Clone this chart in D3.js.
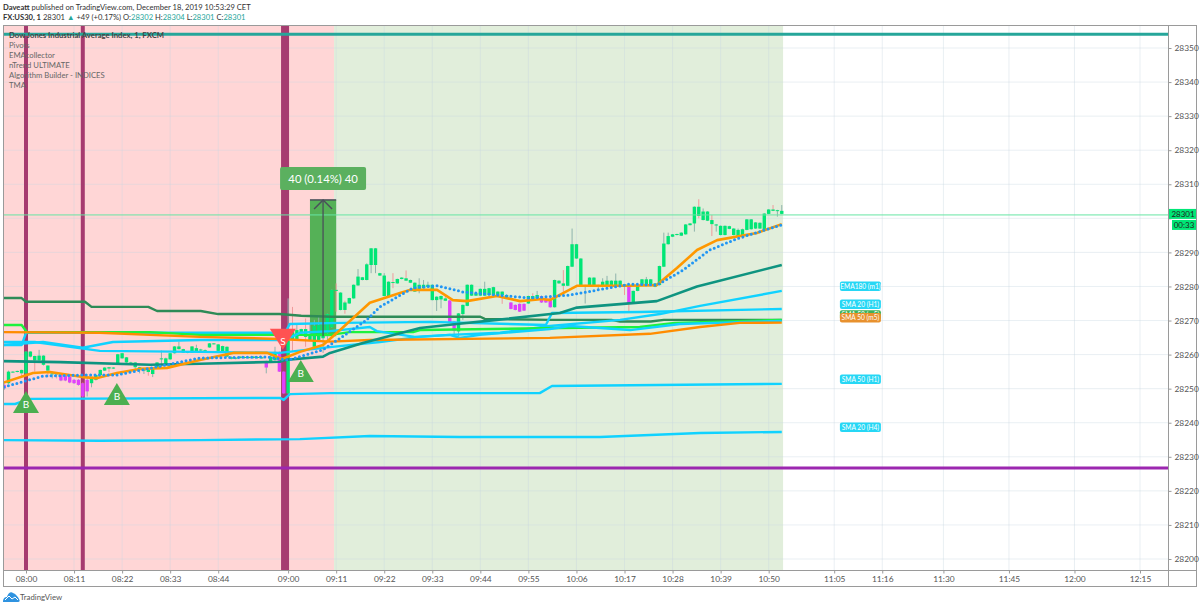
<!DOCTYPE html>
<html>
<head>
<meta charset="utf-8">
<script src="https://cdn.jsdelivr.net/npm/d3@7"></script>
<style>
  html, body { margin: 0; padding: 0; background: #fff; }
  svg { display: block; }
  text { font-family: Lato, sans-serif; }
</style>
</head>
<body>
<div id="chart"></div>
<script>
// minutes counted from 08:00, prices
const priceTicks = [28200,28210,28220,28230,28240,28250,28260,28270,28280,28290,28300,28310,28320,28330,28340,28350];
const hiddenPriceLabel = 28300; // covered by the last price tag
const timeTicks = [0,11,22,33,44,60,71,82,93,104,115,126,137,148,159,170,185,196,210,225,240,255];
const timeLabels = ["08:00","08:11","08:22","08:33","08:44","09:00","09:11","09:22","09:33","09:44","09:55","10:06","10:17","10:28","10:39","10:50","11:05","11:16","11:30","11:45","12:00","12:15"];
const legendLines = ["Dow Jones Industrial Average Index, 1, FXCM","Pivots","EMAcollector","nTrend ULTIMATE","Algorithm Builder - INDICES","TMA"];

const firstCandle = -5;
const bodyHigh = [
28251.1,28255.0,28255.0,28255.2,28255.5,28260.9,28260.9,28259.6,28259.7,28259.7,
28256.8,28254.5,28254.5,28254.0,28253.8,28253.6,28252.6,28252.6,28251.6,28252.6,
28253.1,28254.0,28255.5,28256.2,28256.3,28256.2,28260.1,28260.4,28259.2,28257.7,
28257.7,28256.3,28255.9,28255.7,28256.0,28257.7,28258.9,28258.9,28260.4,28262.4,
28262.4,28261.6,28260.8,28262.4,28261.9,28261.5,28261.3,28263.3,28263.3,28263.0,
28262.5,28262.3,28259.2,28259.1,28259.4,28259.3,28259.3,28259.4,28259.3,28259.2,
28258.1,28259.4,28260.8,28260.8,28255.0,28266.0,28266.7,28267.2,28267.5,28267.5,
28265.7,28268.5,28268.7,28268.7,28271.9,28279.0,28279.0,28278.2,28275.3,28276.6,
28280.5,28282.9,28282.7,28286.5,28291.2,28291.2,28283.9,28283.2,28281.4,28281.3,
28282.2,28282.6,28282.4,28281.9,28281.1,28280.5,28280.5,28280.5,28280.5,28277.0,
28277.2,28276.5,28275.9,28269.7,28272.1,28274.6,28280.5,28280.5,28278.0,28279.3,
28279.3,28279.5,28279.8,28278.5,28278.5,28277.5,28275.3,28274.6,28274.9,28274.9,
28277.2,28277.2,28277.5,28277.2,28276.5,28276.5,28281.9,28281.7,28280.9,28286.0,
28292.4,28292.4,28288.2,28280.4,28282.6,28282.6,28280.4,28281.4,28281.7,28281.7,
28281.7,28281.7,28280.6,28280.4,28278.7,28280.4,28282.1,28282.1,28282.1,28280.9,
28286.0,28292.6,28294.8,28295.3,28295.4,28295.8,28298.2,28298.5,28303.4,28303.4,
28302.0,28302.0,28299.5,28298.2,28297.8,28297.8,28297.7,28297.0,28296.6,28296.8,
28299.7,28299.7,28298.8,28298.7,28301.4,28302.6,28302.6,28302.4,28302.2];
const bodyLow = [
28250.1,28251.6,28254.8,28254.9,28254.5,28254.5,28259.4,28258.3,28258.3,28257.0,
28255.3,28254.3,28254.2,28252.4,28252.4,28251.8,28251.6,28251.1,28247.7,28249.2,
28251.6,28252.6,28254.0,28255.3,28255.9,28255.9,28257.3,28258.9,28257.7,28257.5,
28256.3,28255.5,28255.3,28254.9,28254.3,28256.3,28258.6,28257.3,28258.6,28260.4,
28261.6,28260.6,28260.6,28260.6,28260.9,28261.2,28261.0,28262.1,28263.1,28261.1,
28260.8,28259.4,28258.8,28258.8,28259.0,28259.0,28259.0,28259.0,28259.0,28258.9,
28256.2,28257.9,28258.4,28255.0,28248.6,28248.6,28264.3,28264.3,28266.2,28265.2,
28264.3,28262.3,28264.3,28264.8,28266.2,28268.0,28278.7,28273.1,28273.1,28275.0,
28276.5,28280.3,28281.9,28281.9,28286.3,28286.3,28283.2,28277.2,28277.2,28281.1,
28280.9,28282.2,28281.7,28281.1,28278.5,28279.0,28279.5,28279.8,28276.0,28276.0,
28276.2,28275.8,28269.4,28267.0,28266.8,28271.9,28274.3,28277.3,28277.3,28277.3,
28277.3,28277.5,28277.5,28277.5,28277.5,28276.5,28273.4,28273.1,28272.6,28272.9,
28275.0,28276.2,28276.5,28275.3,28275.3,28273.9,28273.9,28280.9,28280.2,28280.2,
28285.8,28288.2,28280.4,28280.1,28280.4,28280.4,28280.0,28280.4,28280.4,28280.4,
28280.4,28280.4,28280.3,28275.0,28275.0,28278.7,28280.4,28280.4,28280.4,28279.9,
28280.4,28285.8,28292.4,28294.6,28295.1,28294.9,28295.3,28298.0,28298.5,28300.7,
28299.5,28299.3,28298.3,28297.9,28295.1,28295.1,28296.9,28295.1,28294.6,28294.8,
28296.6,28296.8,28297.0,28297.0,28296.6,28301.3,28302.2,28302.2,28301.3];
const wickHigh = [
28251.5,28255.3,28255.1,28255.3,28255.6,28261.0,28261.0,28259.7,28261.4,28259.8,
28256.9,28254.7,28254.7,28254.1,28253.9,28253.7,28252.8,28252.8,28251.8,28253.1,
28253.2,28254.1,28255.6,28256.3,28256.4,28256.3,28260.2,28260.5,28259.3,28257.9,
28257.8,28256.4,28256.0,28255.8,28256.1,28257.8,28261.2,28259.1,28260.5,28262.5,
28263.8,28261.7,28261.0,28262.5,28262.9,28261.7,28261.5,28263.4,28263.4,28263.1,
28262.6,28262.4,28259.5,28259.3,28259.6,28259.5,28259.5,28259.6,28259.5,28259.4,
28258.2,28260.5,28262.3,28260.9,28255.1,28276.5,28274.0,28269.1,28267.6,28270.6,
28269.1,28270.2,28271.1,28268.9,28272.0,28279.1,28280.9,28278.3,28275.8,28276.7,
28280.6,28285.1,28282.8,28286.8,28291.3,28291.3,28284.0,28283.9,28281.5,28283.9,
28282.3,28282.7,28284.7,28282.0,28281.2,28282.4,28281.9,28281.4,28280.6,28277.1,
28277.3,28277.5,28276.0,28269.8,28272.2,28274.7,28280.6,28280.6,28278.1,28279.4,
28281.4,28279.6,28279.9,28278.6,28278.6,28277.6,28275.4,28274.7,28275.0,28275.0,
28277.3,28278.0,28278.7,28277.3,28276.6,28276.6,28282.0,28281.8,28284.8,28286.1,
28297.0,28292.5,28288.3,28280.5,28282.7,28282.7,28280.5,28282.4,28283.1,28281.8,
28283.8,28281.8,28280.7,28280.5,28278.8,28280.5,28282.2,28282.8,28282.2,28281.0,
28286.1,28295.8,28295.8,28295.4,28295.5,28295.9,28298.3,28298.6,28303.5,28305.6,
28302.9,28302.1,28301.0,28298.3,28297.9,28297.9,28297.8,28297.1,28297.0,28297.0,
28299.8,28299.8,28298.9,28298.8,28301.5,28302.7,28303.9,28302.5,28303.9];
const wickLow = [
28249.6,28251.4,28254.7,28254.8,28253.4,28254.0,28259.2,28255.0,28258.2,28256.8,
28253.4,28253.0,28253.0,28252.2,28252.2,28251.6,28251.4,28250.9,28247.4,28247.7,
28250.4,28252.4,28253.9,28255.2,28254.8,28255.8,28257.2,28258.8,28257.6,28257.4,
28255.5,28254.5,28254.3,28253.8,28253.4,28256.2,28256.5,28257.2,28258.5,28260.3,
28261.5,28260.5,28260.4,28260.5,28260.8,28261.0,28260.9,28262.0,28263.0,28261.0,
28260.7,28259.3,28258.6,28258.6,28258.8,28258.8,28258.8,28258.8,28258.8,28258.7,
28254.5,28257.7,28258.2,28254.9,28248.5,28248.5,28260.8,28264.2,28266.1,28262.3,
28264.2,28262.2,28264.2,28260.5,28264.2,28267.9,28272.6,28273.0,28272.0,28274.9,
28276.4,28280.2,28281.8,28281.8,28283.9,28283.9,28283.1,28277.1,28277.1,28279.5,
28280.8,28282.1,28281.6,28281.0,28278.4,28278.0,28279.4,28279.7,28275.9,28272.8,
28273.6,28275.7,28269.3,28265.3,28265.3,28270.2,28274.2,28277.2,28277.2,28277.2,
28277.2,28277.4,28277.4,28277.4,28274.9,28276.4,28273.3,28273.0,28272.5,28272.8,
28274.9,28276.1,28276.4,28275.2,28275.2,28273.8,28273.8,28280.8,28278.0,28280.1,
28285.7,28288.1,28280.3,28275.0,28280.3,28280.3,28278.9,28280.3,28280.3,28280.3,
28280.3,28280.3,28277.5,28272.6,28274.9,28278.6,28280.3,28280.3,28280.3,28279.8,
28280.3,28285.7,28292.3,28294.5,28295.0,28294.8,28295.2,28297.9,28296.1,28300.0,
28299.4,28299.2,28294.8,28296.1,28295.0,28295.0,28296.8,28295.0,28294.5,28294.0,
28296.5,28296.7,28296.9,28296.9,28296.5,28301.2,28302.1,28300.5,28301.2];
const magentaMinutes = [-5,8,9,10,11,12,13,14,55,58,59,97,98,111,112,113,114,118,119,120,138];
const salmonWickMinutes = [-1,2,5,7,13,19,28,61,64,71,73,84,87,96,109,116,123,137,138,154,157,164,171];

const darkGreenLine = [[-5.3,28276.6],[-1,28276.6],[0,28275.5],[13.5,28275.5],[15,28274],[28,28274],[30,28272.8],[40,28272.8],[44,28271.9],[58,28271.9],[63,28271.4],[70,28271.1],[104,28271.1],[105,28270.5],[120,28270.2],[134,28270.2],[136,28269.7],[143,28269.7],[146,28270.2],[173,28270.2]];
const brightGreenLine = [[-5.3,28268.7],[-1,28268.7],[0.2,28266.6],[28.4,28266.6],[39.8,28265.8],[69.6,28265.8],[74.1,28266.6],[88.6,28266.6],[90.2,28267.2],[122.2,28267.8],[140.5,28268.1],[148.5,28269.3],[173,28270.2]];
const flatOrangeLine = [[-5.3,28266.6],[16.9,28266.4],[39.8,28265.2],[58.1,28264.6],[69.6,28263.8],[78.7,28264.3],[119.9,28264.9],[142.8,28266.1],[154.3,28268.1],[163.4,28269.3],[173,28269.4]];
const sma20H1 = [[-5.3,28262.8],[-1,28262.8],[0,28266.4],[59.3,28266.4],[60.4,28269],[71.9,28269.3],[92.5,28269.6],[119,28268.7],[120.4,28272.2],[140.5,28272.5],[173,28273.4]];
const ema180M1 = [[-5.3,28263.7],[2,28263.7],[16.9,28261.1],[39.8,28260.8],[58.1,28260.5],[69.6,28262.2],[81,28263.7],[90.2,28265.2],[97,28265.8],[108.5,28266.4],[119.9,28268.4],[136,28270.2],[145.1,28271.9],[154.3,28274.3],[173,28278.7]];
const cyanWavy = [[-5.3,28262.8],[3.9,28263.7],[13,28262],[19.9,28263.7],[39.8,28264.3],[59.3,28264.3],[62.7,28266.4],[69.6,28266.9],[78.7,28268.1],[80.3,28266.9],[89,28265.2],[97,28265.8],[99.3,28264.9],[103.9,28265.8],[119.9,28267.5],[124.5,28268.4],[138.3,28267.2],[149.7,28269],[173,28269.9]];
const sma50H1 = [[-5.3,28245.5],[-2.5,28245.5],[0.9,28247],[58.1,28247.3],[59,28246.7],[60.4,28248.4],[69.6,28248.7],[117.6,28248.7],[120.4,28250.8],[173,28251.4]];
const sma20H4 = [[-5.3,28234.9],[16.9,28234.7],[39.8,28234.9],[62.7,28235.2],[78.7,28236.1],[99.3,28235.8],[131.4,28235.8],[154.3,28237],[173,28237.3]];
const tealEma = [[-5.3,28258.1],[7.8,28257.8],[28.4,28257],[39.8,28257.3],[58.1,28257.9],[59.3,28258.4],[68,28259.4],[69.6,28260.5],[77.1,28263.4],[90.2,28267.8],[98.6,28269],[107.8,28270.2],[122.2,28272.2],[126.1,28273.8],[144.4,28275.7],[153.6,28280],[173,28286.3]];
const orangeMa = [[-5.3,28251.7],[1.6,28254.6],[5.5,28254.9],[13,28253.4],[16.3,28253.1],[20.8,28254.6],[26.1,28255.8],[32.3,28256.1],[39.8,28258.4],[47.4,28260.5],[55.2,28260.5],[58.6,28258.7],[62.7,28260.8],[68,28262.8],[71.9,28267.2],[78.7,28275.2],[85.6,28278.1],[87.9,28279],[94.1,28279],[97.7,28276],[100.9,28275.7],[107.8,28277.2],[113.1,28275.7],[118.3,28276.3],[119.9,28276],[126.1,28280.2],[138.3,28280.2],[144.4,28280.4],[149,28285.4],[153.6,28290.7],[158.2,28293.6],[167.3,28295.7],[173,28298.3]];
const blueDots = [[-5,28250.5],[3.9,28253.7],[13,28254],[20.8,28254],[39.8,28259],[55.2,28259.3],[60,28258.4],[68,28261.4],[78,28270.2],[81,28274],[88.6,28279.6],[94.1,28280.2],[100,28278.4],[107.8,28277.5],[115.3,28276.6],[124.5,28277.5],[138.3,28280.7],[144.4,28280.4],[150.4,28284.8],[156.5,28290.7],[162.7,28294],[173,28298.1]];

const sessionBands = [[-5.26,70.5,"#ffd6d6"],[70.5,173.3,"#e1eedb"]];
const pinkBars = [[0,4],[13,4],[59.3,8]];
const topLevel = 28354;
const purpleLevel = 28226.7;
const lastPrice = 28301;

const signalMinutes = [0,20.8,62.9,58.8];
const signalPrices = [28249.3,28251.7,28258.4,28261.4];
const signalTexts = ["B","B","B","S"];

const lineTags = [["EMA180 (m1)",28278.7,"#26d7f5"],["SMA 20 (H1)",28273.4,"#26d7f5"],["SMA 50 (m5)",28270.2,"#3db25a"],["SMA 50 (m5)",28269.4,"#e8912e"],["SMA 50 (H1)",28251.4,"#26d7f5"],["SMA 20 (H4)",28237.3,"#26d7f5"]];

const width = 1200, height = 608;
const plotLeft = 3, plotRight = 1168, plotTop = 25, plotBottom = 570;

const x = d3.scaleLinear().domain([0, 255]).range([26, 1140]);
const y = d3.scaleLinear().domain([28350, 28200]).range([48, 559]);

const svg = d3.select('#chart')
  .append('svg')
  .attr('width', width)
  .attr('height', height);

svg.append('clipPath').attr('id', 'plot')
  .append('rect')
  .attr('x', plotLeft).attr('y', plotTop)
  .attr('width', plotRight - plotLeft).attr('height', plotBottom - plotTop);

// header
const head1 = svg.append('text').attr('x', 3).attr('y', 10).attr('font-size', 7.6).attr('fill', '#333');
head1.append('tspan').attr('font-weight', 700).text('Daveatt');
head1.append('tspan').text(' published on TradingView.com, December 18, 2019 10:53:29 CET');

const head2 = svg.append('text').attr('x', 3).attr('y', 20).attr('font-size', 7.6).attr('fill', '#333');
head2.append('tspan').attr('font-weight', 700).text('FX:US30, 1');
head2.append('tspan').text('  28301 ');
head2.append('tspan').attr('fill', '#26a69a').text('▲');
head2.append('tspan').text(' +49 (+0.17%) O:');
head2.append('tspan').attr('fill', '#26a69a').text('28302');
head2.append('tspan').text(' H:');
head2.append('tspan').attr('fill', '#26a69a').text('28304');
head2.append('tspan').text(' L:');
head2.append('tspan').attr('fill', '#26a69a').text('28301');
head2.append('tspan').text(' C:');
head2.append('tspan').attr('fill', '#26a69a').text('28301');

const plot = svg.append('g').attr('clip-path', 'url(#plot)');

// session backgrounds
plot.selectAll('rect.band')
  .data(sessionBands)
  .enter()
  .append('rect')
  .attr('class', 'band')
  .attr('x', d => x(d[0]))
  .attr('y', plotTop)
  .attr('width', d => x(d[1]) - x(d[0]))
  .attr('height', plotBottom - plotTop)
  .attr('fill', d => d[2]);

// grid
plot.selectAll('line.hgrid')
  .data(priceTicks)
  .enter()
  .append('line')
  .attr('x1', plotLeft).attr('x2', plotRight)
  .attr('y1', d => y(d)).attr('y2', d => y(d))
  .attr('stroke', '#c9d6e2').attr('stroke-opacity', 0.4);

plot.selectAll('line.vgrid')
  .data(timeTicks)
  .enter()
  .append('line')
  .attr('x1', d => x(d)).attr('x2', d => x(d))
  .attr('y1', plotTop).attr('y2', plotBottom)
  .attr('stroke', '#c9d6e2').attr('stroke-opacity', 0.4);

// legend sits under the drawings
svg.selectAll('text.legend')
  .data(legendLines)
  .enter()
  .append('text')
  .attr('x', 9)
  .attr('y', (d, i) => 38 + i * 10)
  .attr('font-size', 7.7)
  .attr('font-weight', (d, i) => i === 0 ? 700 : 400)
  .attr('fill', (d, i) => i === 0 ? '#444' : '#666')
  .text(d => d);

// session marker bars
plot.selectAll('rect.pink')
  .data(pinkBars)
  .enter()
  .append('rect')
  .attr('x', d => x(d[0]) - d[1] / 2)
  .attr('y', plotTop)
  .attr('width', d => d[1])
  .attr('height', plotBottom - plotTop)
  .attr('fill', '#a63b70');

// trade box
const tradeStart = 65, tradeEnd = 71, tradeTop = 28305.4, tradeBottom = 28265.4;
plot.append('rect')
  .attr('x', x(tradeStart))
  .attr('y', y(tradeTop))
  .attr('width', x(tradeEnd) - x(tradeStart))
  .attr('height', y(tradeBottom) - y(tradeTop))
  .attr('fill', '#4caf50')
  .attr('fill-opacity', 0.95);

// candles
const candles = bodyHigh.map((d, i) => ({
  minute: firstCandle + i,
  bodyHigh: d,
  bodyLow: bodyLow[i],
  wickHigh: wickHigh[i],
  wickLow: wickLow[i]
}));

plot.selectAll('line.wick')
  .data(candles)
  .enter()
  .append('line')
  .attr('x1', d => x(d.minute)).attr('x2', d => x(d.minute))
  .attr('y1', d => y(d.wickHigh)).attr('y2', d => y(d.wickLow))
  .attr('stroke', d => salmonWickMinutes.includes(d.minute) ? '#ef9a9a' : '#8fb3ac')
  .attr('stroke-width', 1);

plot.selectAll('rect.body')
  .data(candles)
  .enter()
  .append('rect')
  .attr('x', d => x(d.minute) - 1.7)
  .attr('y', d => y(d.bodyHigh))
  .attr('width', 3.4)
  .attr('height', d => Math.max(1, y(d.bodyLow) - y(d.bodyHigh)))
  .attr('fill', d => magentaMinutes.includes(d.minute) ? '#e040fb' : '#00e676');

// indicator lines
const lineGen = d3.line().x(d => x(d[0])).y(d => y(d[1]));
const lineStyles = [
  [darkGreenLine, '#2e8b57', 2.4],
  [sma50H1, '#10d2ff', 2.4],
  [sma20H4, '#10d2ff', 2.4],
  [ema180M1, '#10d2ff', 2.4],
  [sma20H1, '#10d2ff', 2.4],
  [brightGreenLine, '#1cf23e', 2.4],
  [cyanWavy, '#10d2ff', 2.4],
  [flatOrangeLine, '#ff8c00', 2.4],
  [tealEma, '#0e9480', 2.6],
  [orangeMa, '#ff9800', 2.6]
];

plot.selectAll('path.ind')
  .data(lineStyles)
  .enter()
  .append('path')
  .attr('d', d => lineGen(d[0]))
  .attr('fill', 'none')
  .attr('stroke', d => d[1])
  .attr('stroke-width', d => d[2])
  .attr('stroke-linejoin', 'round');

plot.append('path')
  .attr('d', lineGen(blueDots))
  .attr('fill', 'none')
  .attr('stroke', '#2196f3')
  .attr('stroke-width', 3)
  .attr('stroke-linecap', 'round')
  .attr('stroke-dasharray', '0 4.4');

// horizontal levels
plot.append('line')
  .attr('x1', plotLeft).attr('x2', plotRight)
  .attr('y1', y(topLevel)).attr('y2', y(topLevel))
  .attr('stroke', '#26a69a').attr('stroke-width', 3);
plot.append('line')
  .attr('x1', plotLeft).attr('x2', plotRight)
  .attr('y1', y(purpleLevel)).attr('y2', y(purpleLevel))
  .attr('stroke', '#9c27b0').attr('stroke-width', 3);
plot.append('line')
  .attr('x1', plotLeft).attr('x2', plotRight)
  .attr('y1', y(lastPrice)).attr('y2', y(lastPrice))
  .attr('stroke', '#66e6a4').attr('stroke-width', 1);

// trade arrow and label
const tradeMid = (tradeStart + tradeEnd) / 2;
plot.append('line')
  .attr('x1', x(tradeStart)).attr('x2', x(tradeEnd))
  .attr('y1', y(tradeTop)).attr('y2', y(tradeTop))
  .attr('stroke', '#4a4f5a').attr('stroke-width', 1.5);
plot.append('line')
  .attr('x1', x(tradeMid)).attr('x2', x(tradeMid))
  .attr('y1', y(tradeTop)).attr('y2', y(tradeBottom))
  .attr('stroke', '#4a4f5a').attr('stroke-width', 1.5).attr('stroke-opacity', 0.85);
plot.append('path')
  .attr('d', `M${x(tradeMid) - 9},${y(tradeTop) + 9}L${x(tradeMid)},${y(tradeTop)}L${x(tradeMid) + 9},${y(tradeTop) + 9}`)
  .attr('fill', 'none')
  .attr('stroke', '#4a4f5a').attr('stroke-width', 1.5);

svg.append('rect')
  .attr('x', x(tradeMid) - 43).attr('y', y(tradeTop) - 33)
  .attr('width', 86).attr('height', 23).attr('rx', 2)
  .attr('fill', '#5bb05f');
svg.append('text')
  .attr('x', x(tradeMid)).attr('y', y(tradeTop) - 17)
  .attr('text-anchor', 'middle')
  .attr('font-size', 11.3)
  .attr('font-family', '"Open Sans", sans-serif')
  .attr('fill', '#fff')
  .text('40 (0.14%) 40');

// buy / sell signals, price marks the triangle tip
const signals = plot.selectAll('g.signal')
  .data(signalTexts.map((t, i) => ({ text: t, minute: signalMinutes[i], price: signalPrices[i] })))
  .enter()
  .append('g')
  .attr('transform', d => `translate(${x(d.minute)},${y(d.price)})`);

signals.append('path')
  .attr('d', d => d.text === 'B' ? 'M0,0L13,22L-13,22Z' : 'M0,0L13,-21L-13,-21Z')
  .attr('fill', d => d.text === 'B' ? '#4caf50' : '#ff5252');

signals.append('text')
  .attr('y', d => d.text === 'B' ? 17 : -5)
  .attr('text-anchor', 'middle')
  .attr('font-size', 10)
  .attr('fill', '#fff')
  .text(d => d.text);

// line tags
const tagMinute = 191;
const tags = svg.selectAll('g.tag')
  .data(lineTags)
  .enter()
  .append('g')
  .attr('transform', d => `translate(${x(tagMinute)},${y(d[1]) - 5})`);

tags.append('rect')
  .attr('x', -20.5).attr('y', -4.5)
  .attr('width', 41).attr('height', 9.5).attr('rx', 2)
  .attr('fill', d => d[2]);
tags.append('text')
  .attr('y', 2.6)
  .attr('text-anchor', 'middle')
  .attr('font-size', 6.6)
  .attr('fill', '#fff')
  .text(d => d[0]);

// frame
svg.append('rect')
  .attr('x', plotLeft + 0.5).attr('y', plotTop + 0.5)
  .attr('width', 1193).attr('height', 561)
  .attr('fill', 'none').attr('stroke', '#9a9a9a');
svg.append('line')
  .attr('x1', plotLeft).attr('x2', 1196.5)
  .attr('y1', plotBottom + 0.5).attr('y2', plotBottom + 0.5)
  .attr('stroke', '#9a9a9a');
svg.append('line')
  .attr('x1', plotRight + 0.5).attr('x2', plotRight + 0.5)
  .attr('y1', plotTop).attr('y2', plotBottom + 16)
  .attr('stroke', '#9a9a9a');

// axes
const yAxis = svg.append('g')
  .attr('transform', `translate(${plotRight + 0.5},0)`)
  .call(d3.axisRight(y).tickValues(priceTicks).tickFormat(d => d === hiddenPriceLabel ? '' : d3.format('d')(d)).tickSize(3));
const xAxis = svg.append('g')
  .attr('transform', `translate(0,${plotBottom + 0.5})`)
  .call(d3.axisBottom(x).tickValues(timeTicks).tickFormat((d, i) => timeLabels[i]).tickSize(3));

[yAxis, xAxis].forEach(a => {
  a.select('.domain').remove();
  a.selectAll('line').attr('stroke', '#9a9a9a');
  a.selectAll('text').attr('font-size', 8.4).attr('fill', '#555').attr('font-family', '"Open Sans", sans-serif');
});

// last price tags
svg.append('rect').attr('x', plotRight + 1).attr('y', y(lastPrice) - 6).attr('width', 27).attr('height', 10).attr('fill', '#00e676');
svg.append('text').attr('x', plotRight + 15).attr('y', y(lastPrice) + 2).attr('text-anchor', 'middle').attr('font-size', 8).attr('font-family', '"Open Sans", sans-serif').attr('fill', '#222').text('28301');
svg.append('rect').attr('x', plotRight + 4).attr('y', y(lastPrice) + 5).attr('width', 24).attr('height', 10).attr('fill', '#00e676');
svg.append('text').attr('x', plotRight + 16).attr('y', y(lastPrice) + 12.8).attr('text-anchor', 'middle').attr('font-size', 8).attr('font-family', '"Open Sans", sans-serif').attr('fill', '#222').text('00:33');

// footer logo
const logo = svg.append('g').attr('transform', 'translate(3,591)');
logo.append('path')
  .attr('d', 'M0,11C0,7 2,6 4,6C5,2 8,0 10,2C13,3 15,6 16,8C17,9 17,11 15,11Z')
  .attr('fill', '#2f93e0');
logo.append('path')
  .attr('d', 'M2,9L6,5L9,8L12,6L15,9')
  .attr('fill', 'none').attr('stroke', '#fff').attr('stroke-width', 1);
svg.append('text')
  .attr('x', 20).attr('y', 600)
  .attr('font-size', 7.8)
  .attr('fill', '#555')
  .text('TradingView');
</script>
</body>
</html>
